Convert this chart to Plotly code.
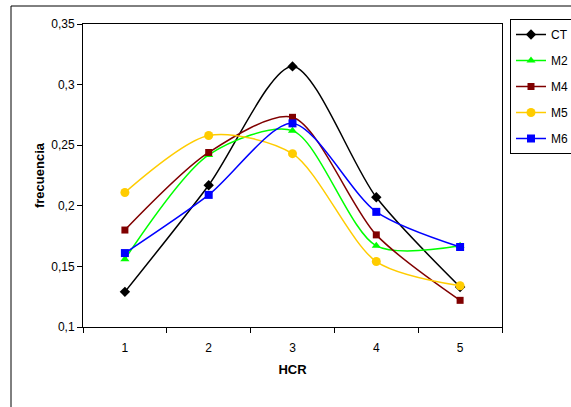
import plotly.graph_objects as go

categories = ["1", "2", "3", "4", "5"]
ct = [0.129, 0.217, 0.315, 0.207, 0.133]
m2 = [0.156, 0.242, 0.262, 0.167, 0.167]
m4 = [0.180, 0.244, 0.273, 0.176, 0.122]
m5 = [0.211, 0.258, 0.243, 0.154, 0.134]
m6 = [0.161, 0.209, 0.268, 0.195, 0.166]
y_ticks = [0.1, 0.15, 0.2, 0.25, 0.3, 0.35]

series = [
    ("CT", ct, "#000000", "diamond", 8),
    ("M2", m2, "#00FF00", "triangle-up", 8),
    ("M4", m4, "#800000", "square", 7),
    ("M5", m5, "#FFCC00", "circle", 9),
    ("M6", m6, "#0000FF", "square", 8),
]

W, H = 571, 407
L, R, T, B = 83, 502, 24, 327

fig = go.Figure()
for i, (name, vals, col, sym, sz) in enumerate(series):
    fig.add_trace(go.Scatter(
        x=categories, y=vals, name=name, mode="lines+markers",
        line=dict(color=col, width=1.5, shape="spline", smoothing=0.8),
        marker=dict(color=col, symbol=sym, size=sz),
        legendgroup=name,
    ))

fig.update_layout(
    width=W, height=H,
    margin=dict(l=L, r=W - R, t=T, b=H - B, pad=0, autoexpand=False),
    paper_bgcolor="white", plot_bgcolor="white",
    separators=", ",
    font=dict(family="Liberation Sans, Arial, sans-serif", size=12, color="black"),
    showlegend=True,
    legend=dict(
        x=(510 - L) / (R - L), y=1 + (T - 19) / (B - T),
        xanchor="left", yanchor="top",
        bordercolor="black", borderwidth=1, bgcolor="white",
        font=dict(size=12), tracegroupgap=7,
    ),
    xaxis=dict(
        type="category", tickson="boundaries", range=[-0.5, 4.5],
        showline=True, linecolor="black", linewidth=1, mirror=True,
        ticks="outside", ticklen=5, tickcolor="black",
        ticklabelstandoff=10,
        showgrid=False, zeroline=False,
        title=dict(text="<b>HCR</b>", font=dict(size=13), standoff=10),
    ),
    yaxis=dict(
        range=[0.1, 0.35], tickvals=y_ticks,
        showline=True, linecolor="black", linewidth=1, mirror=True,
        ticks="outside", ticklen=5, tickcolor="black",
        showgrid=False, zeroline=False,
        title=dict(text="<b>frecuencia</b>", font=dict(size=13), standoff=3),
    ),
    shapes=[dict(
        type="rect", xref="paper", yref="paper",
        x0=(11 - L) / (R - L), x1=1.5,
        y0=-0.5, y1=1 + (T - 6) / (B - T),
        line=dict(color="black", width=1), fillcolor="rgba(0,0,0,0)",
        layer="below",
    )],
)

fig.write_html("out.html")
